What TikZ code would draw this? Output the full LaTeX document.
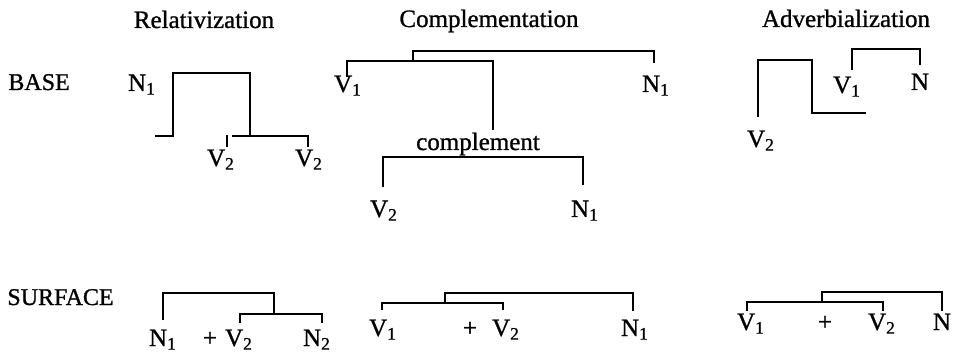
\documentclass[tikz,border=0pt]{standalone}
\usepackage{fontspec}
\setmainfont{Liberation Serif}[RawFeature={embolden=1}]
\usetikzlibrary{positioning}

\begin{document}
\begin{tikzpicture}[x=0.5pt, y=-0.5pt,
  treeline/.style={line width=1pt},
  lab/.style={anchor=base, inner sep=1pt, font=\fontsize{12.5}{15}\selectfont},
  head/.style={anchor=base, inner sep=0pt, font=\fontsize{12.5}{15}\selectfont},
  rowlab/.style={anchor=base west, inner sep=0pt, font=\fontsize{12}{14}\selectfont}]
\useasboundingbox (0,0) rectangle (954,353);
\node[head] (hRel) at (204,28) {Relativization};
\node[head] (hCom) at (489,27) {Complementation};
\node[head] (hAdv) at (846,27) {Adverbialization};
\node[rowlab] (lBase) at (8,90) {BASE};
\node[rowlab] (lSurf) at (7,305) {SURFACE};
% relativization
\node[lab] (rN1) at (142,91) {N\textsubscript{1}};
\node[lab] (rV2a) at (221,166) {V\textsubscript{2}};
\node[lab] (rV2b) at (309,166) {V\textsubscript{2}};
\coordinate (rL) at (155,136); \coordinate (rTop) at (173,73);
\coordinate (rJ) at (250,136); \coordinate (rS) at (232,136);
\draw[treeline] (rL) -| (rTop) -| (rJ);
\draw[treeline] (rS) -| ([xshift=-0.5pt]rV2b.north);
\draw[treeline] ([xshift=3pt]rV2a.north) -- ++(0,-12);
\node[lab] (sN1) at (163,346) {N\textsubscript{1}};
\node[lab] (sPlus) at (210,346) {+};
\node[lab] (sV2) at (239,346) {V\textsubscript{2}};
\node[lab] (sN2) at (317,346) {N\textsubscript{2}};
\coordinate (sJ1) at (274,293); \coordinate (sJ2) at (274,314);
\draw[treeline, shorten <=3.7pt] (sN1.north) |- (sJ1) -- (sJ2);
\draw[treeline, shorten <=2.2pt, shorten >=2.2pt] ([xshift=0.5pt]sV2.north) |- (sJ2) -| ([xshift=2.5pt]sN2.north);
% complementation
\node[lab] (cV1) at (348,92) {V\textsubscript{1}};
\node[lab] (cN1) at (656,92) {N\textsubscript{1}};
\node[lab] (cComp) at (478,150) {complement};
\node[lab] (cV2) at (384,217) {V\textsubscript{2}};
\node[lab] (cN1b) at (585,217) {N\textsubscript{1}};
\coordinate (cJ1) at (413,51); \coordinate (cJ2) at (413,61); \coordinate (cJ3) at (483,157);
\draw[treeline, shorten <=-2pt] ([xshift=-0.5pt]cV1.north) |- (cJ2) -| ([xshift=7.5pt]cComp.north);
\draw[treeline, shorten >=5pt] (cJ2) -- (cJ1) -| ([xshift=-1pt]cN1.north);
\draw[treeline, shorten <=5.5pt, shorten >=6.5pt] ([xshift=-0.5pt]cV2.north) |- (cJ3) -| ([xshift=-1pt]cN1b.north);
\node[lab] (tV1) at (383,336) {V\textsubscript{1}};
\node[lab] (tPlus) at (470,336) {+};
\node[lab] (tV2) at (506,336) {V\textsubscript{2}};
\node[lab] (tN1) at (635,336) {N\textsubscript{1}};
\coordinate (tJ1) at (445,303); \coordinate (tJ2) at (445,293);
\draw[treeline, shorten <=3.7pt, shorten >=3.7pt] ([xshift=-0.5pt]tV1.north) |- (tJ1) -| ([xshift=-1.5pt]tV2.north);
\draw[treeline, shorten >=3.2pt] (tJ1) -- (tJ2) -| ([xshift=-1pt]tN1.north);
% adverbialization
\node[lab] (aV2) at (761,147) {V\textsubscript{2}};
\node[lab] (aV1) at (847,93) {V\textsubscript{1}};
\node[lab] (aN) at (920,90) {N};
\coordinate (aJ1) at (812,60); \coordinate (aJ2) at (812,113);
\coordinate (aR) at (866,113); \coordinate (aJ3) at (886,49);
\draw[treeline, shorten <=5.7pt] ([xshift=-1.5pt]aV2.north) |- (aJ1) -- (aJ2) -- (aR);
\draw[treeline, shorten <=2.2pt, shorten >=3.2pt] ([xshift=2.5pt]aV1.north) |- (aJ3) -| (aN.north);
\node[lab] (uV1) at (751,330) {V\textsubscript{1}};
\node[lab] (uPlus) at (825,330) {+};
\node[lab] (uV2) at (882,330) {V\textsubscript{2}};
\node[lab] (uN) at (942,330) {N};
\coordinate (uJ1) at (822,302); \coordinate (uJ2) at (822,292);
\draw[treeline] ([xshift=-2pt]uV1.north) |- (uJ1) -| ([xshift=0.5pt]uV2.north);
\draw[treeline] (uJ1) -- (uJ2) -| (uN.north);
\end{tikzpicture}
\end{document}
